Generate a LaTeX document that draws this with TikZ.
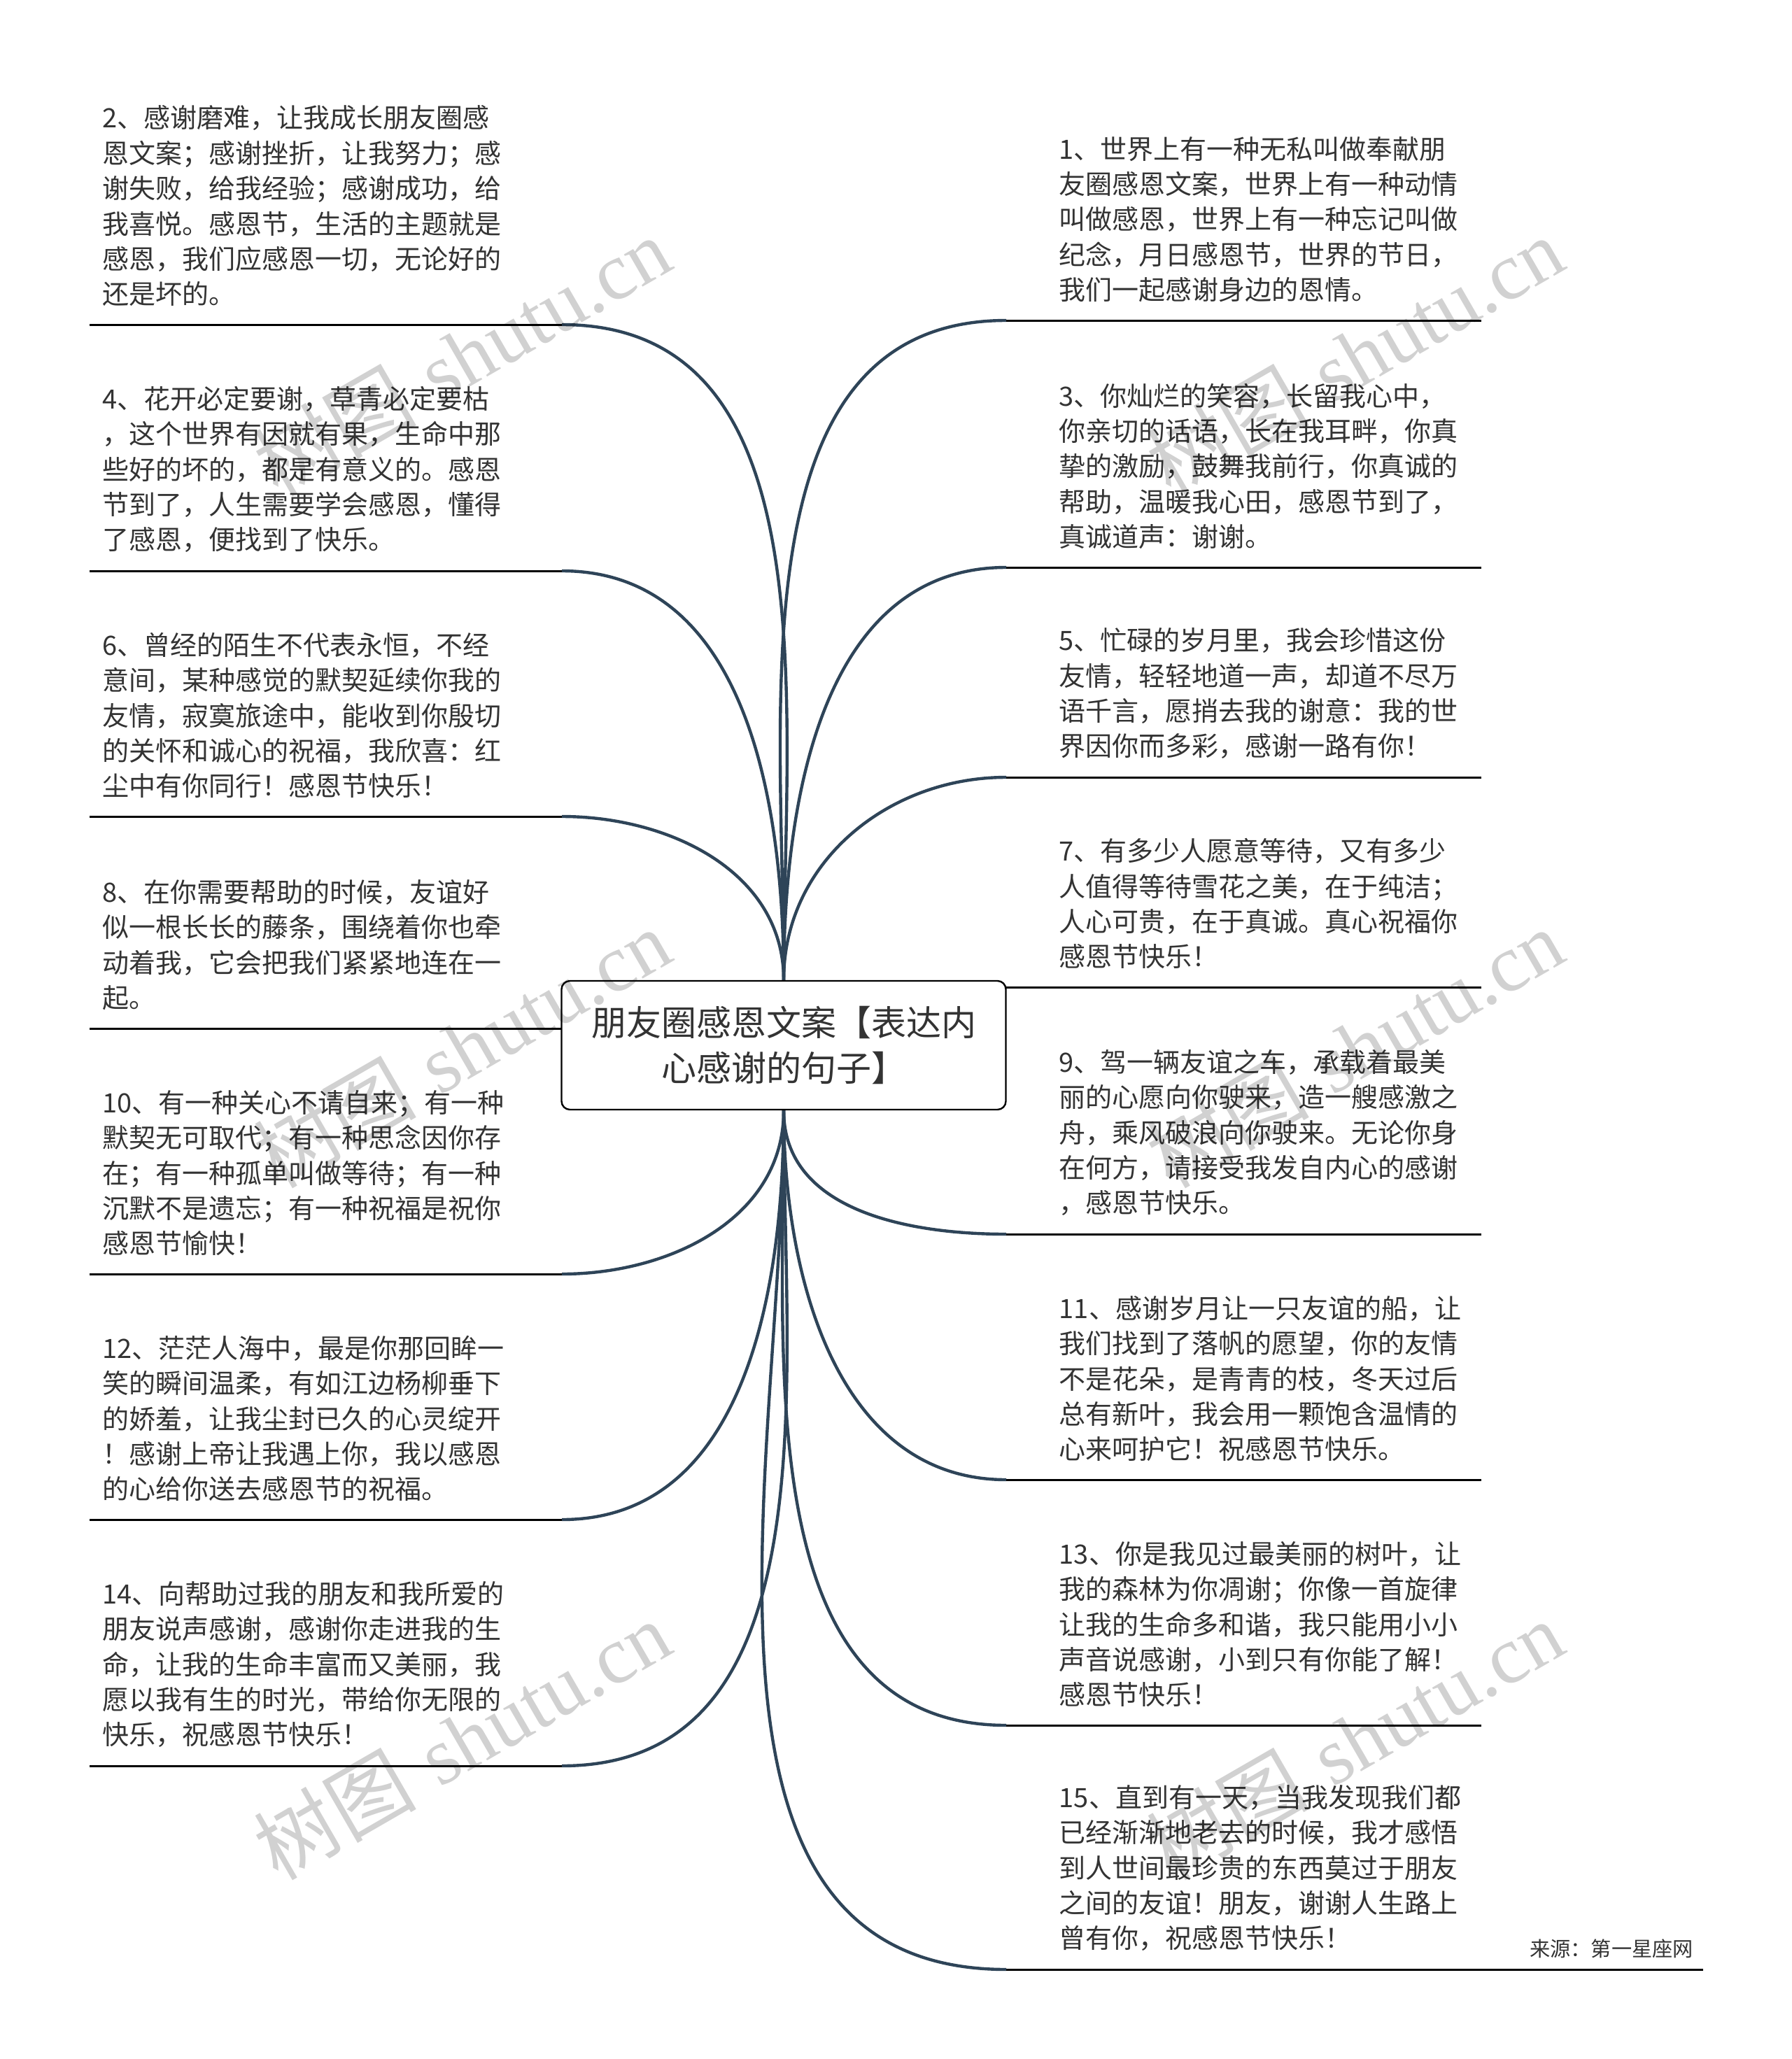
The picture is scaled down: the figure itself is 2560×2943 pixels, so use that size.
\documentclass[tikz,border=0pt]{standalone}
\usepackage{fontspec}
\newfontfamily\cjk{Noto Sans CJK SC}
\newfontfamily\wmfont{Liberation Serif}
\usetikzlibrary{positioning, backgrounds}
\definecolor{twigblue}{RGB}{46,68,88}
\definecolor{inkgray}{RGB}{51,51,51}
\tikzset{
  leaf/.style={font=\cjk\fontsize{9.5pt}{12.6pt}\selectfont, align=left, inner sep=0pt, text=inkgray},
  topic/.style={draw=black, fill=white, rounded corners=3pt, line width=0.6pt,
    minimum width=158.75pt, minimum height=46pt, align=center,
    font=\cjk\fontsize{12.5pt}{16.4pt}\selectfont, text=inkgray},
  stem/.style={draw=black, line width=0.75pt},
  twig/.style={draw=twigblue, line width=1.1pt},
  wmark/.style={rotate=30, text=black, text opacity=0.18, font=\fontsize{29pt}{29pt}\selectfont},
}
\begin{document}
\begin{tikzpicture}[x=0.25pt, y=-0.25pt]
    \useasboundingbox (0,0) rectangle (2560,2943);

    % 中心主题
    \node[topic] (root) at (1120,1494) {朋友圈感恩文案【表达内\\心感谢的句子】};

    % 左侧分支的横线
    \coordinate (l2a) at (128,464);   \coordinate (l2b) at (803,464);
    \coordinate (l4a) at (128,816);   \coordinate (l4b) at (803,816);
    \coordinate (l6a) at (128,1167);  \coordinate (l6b) at (803,1167);
    \coordinate (l8a) at (128,1470);  \coordinate (l8b) at (803,1470);
    \coordinate (l10a) at (128,1821); \coordinate (l10b) at (803,1821);
    \coordinate (l12a) at (128,2172); \coordinate (l12b) at (803,2172);
    \coordinate (l14a) at (128,2524); \coordinate (l14b) at (803,2524);

    % 右侧分支的横线
    \coordinate (r1a) at (1438,458);   \coordinate (r1b) at (2117,458);
    \coordinate (r3a) at (1438,811);   \coordinate (r3b) at (2117,811);
    \coordinate (r5a) at (1438,1111);  \coordinate (r5b) at (2117,1111);
    \coordinate (r7a) at (1438,1411);  \coordinate (r7b) at (2117,1411);
    \coordinate (r9a) at (1438,1764);  \coordinate (r9b) at (2117,1764);
    \coordinate (r11a) at (1438,2115); \coordinate (r11b) at (2117,2115);
    \coordinate (r13a) at (1438,2466); \coordinate (r13b) at (2117,2466);
    \coordinate (r15a) at (1438,2815); \coordinate (r15b) at (2117,2815);

    \foreach \s in {l2,l4,l6,l8,l10,l12,l14,r1,r3,r5,r7,r9,r11,r13,r15}
        \draw[stem] (\s a) -- (\s b);

    % 连线（在主题框之下）
    \begin{scope}[on background layer]
        \draw[twig] (l2b) to[out=0, in=90] (root.north);
        \draw[twig] (l4b) to[out=0, in=90] (root.north);
        \draw[twig] (l6b) to[out=0, in=90] (root.north);
        \draw[twig] (l8b) -- (root.center);
        \draw[twig] (l10b) to[out=0, in=-90] (root.south);
        \draw[twig] (l12b) to[out=0, in=-90] (root.south);
        \draw[twig] (l14b) to[out=0, in=-90] (root.south);
        \draw[twig] (r1a) to[out=180, in=90] (root.north);
        \draw[twig] (r3a) to[out=180, in=90] (root.north);
        \draw[twig] (r5a) to[out=180, in=90] (root.north);
        \draw[twig] (r7a) -- (root.center);
        \draw[twig] (r9a) to[out=180, in=-90] (root.south);
        \draw[twig] (r11a) to[out=180, in=-90] (root.south);
        \draw[twig] (r13a) to[out=180, in=-90] (root.south);
        \draw[twig] (r15a) to[out=180, in=-90] (root.south);
    \end{scope}

    % 左侧文字
    \node[leaf, above right=6.3pt and 4.5pt of l2a] (t2) {2、感谢磨难，让我成长朋友圈感\\恩文案；感谢挫折，让我努力；感\\谢失败，给我经验；感谢成功，给\\我喜悦。感恩节，生活的主题就是\\感恩，我们应感恩一切，无论好的\\还是坏的。};
    \node[leaf, above right=6.3pt and 4.5pt of l4a] (t4) {4、花开必定要谢，草青必定要枯\\，这个世界有因就有果，生命中那\\些好的坏的，都是有意义的。感恩\\节到了，人生需要学会感恩，懂得\\了感恩，便找到了快乐。};
    \node[leaf, above right=6.3pt and 4.5pt of l6a] (t6) {6、曾经的陌生不代表永恒，不经\\意间，某种感觉的默契延续你我的\\友情，寂寞旅途中，能收到你殷切\\的关怀和诚心的祝福，我欣喜：红\\尘中有你同行！感恩节快乐！};
    \node[leaf, above right=6.3pt and 4.5pt of l8a] (t8) {8、在你需要帮助的时候，友谊好\\似一根长长的藤条，围绕着你也牵\\动着我，它会把我们紧紧地连在一\\起。};
    \node[leaf, above right=6.3pt and 4.5pt of l10a] (t10) {10、有一种关心不请自来；有一种\\默契无可取代；有一种思念因你存\\在；有一种孤单叫做等待；有一种\\沉默不是遗忘；有一种祝福是祝你\\感恩节愉快！};
    \node[leaf, above right=6.3pt and 4.5pt of l12a] (t12) {12、茫茫人海中，最是你那回眸一\\笑的瞬间温柔，有如江边杨柳垂下\\的娇羞，让我尘封已久的心灵绽开\\！感谢上帝让我遇上你，我以感恩\\的心给你送去感恩节的祝福。};
    \node[leaf, above right=6.3pt and 4.5pt of l14a] (t14) {14、向帮助过我的朋友和我所爱的\\朋友说声感谢，感谢你走进我的生\\命，让我的生命丰富而又美丽，我\\愿以我有生的时光，带给你无限的\\快乐，祝感恩节快乐！};

    % 右侧文字
    \node[leaf, above right=6.3pt and 18.75pt of r1a] (t1) {1、世界上有一种无私叫做奉献朋\\友圈感恩文案，世界上有一种动情\\叫做感恩，世界上有一种忘记叫做\\纪念，月日感恩节，世界的节日，\\我们一起感谢身边的恩情。};
    \node[leaf, above right=6.3pt and 18.75pt of r3a] (t3) {3、你灿烂的笑容，长留我心中，\\你亲切的话语，长在我耳畔，你真\\挚的激励，鼓舞我前行，你真诚的\\帮助，温暖我心田，感恩节到了，\\真诚道声：谢谢。};
    \node[leaf, above right=6.3pt and 18.75pt of r5a] (t5) {5、忙碌的岁月里，我会珍惜这份\\友情，轻轻地道一声，却道不尽万\\语千言，愿捎去我的谢意：我的世\\界因你而多彩，感谢一路有你！};
    \node[leaf, above right=6.3pt and 18.75pt of r7a] (t7) {7、有多少人愿意等待，又有多少\\人值得等待雪花之美，在于纯洁；\\人心可贵，在于真诚。真心祝福你\\感恩节快乐！};
    \node[leaf, above right=6.3pt and 18.75pt of r9a] (t9) {9、驾一辆友谊之车，承载着最美\\丽的心愿向你驶来，造一艘感激之\\舟，乘风破浪向你驶来。无论你身\\在何方，请接受我发自内心的感谢\\，感恩节快乐。};
    \node[leaf, above right=6.3pt and 18.75pt of r11a] (t11) {11、感谢岁月让一只友谊的船，让\\我们找到了落帆的愿望，你的友情\\不是花朵，是青青的枝，冬天过后\\总有新叶，我会用一颗饱含温情的\\心来呵护它！祝感恩节快乐。};
    \node[leaf, above right=6.3pt and 18.75pt of r13a] (t13) {13、你是我见过最美丽的树叶，让\\我的森林为你凋谢；你像一首旋律\\让我的生命多和谐，我只能用小小\\声音说感谢，小到只有你能了解！\\感恩节快乐！};
    \node[leaf, above right=6.3pt and 18.75pt of r15a] (t15) {15、直到有一天，当我发现我们都\\已经渐渐地老去的时候，我才感悟\\到人世间最珍贵的东西莫过于朋友\\之间的友谊！朋友，谢谢人生路上\\曾有你，祝感恩节快乐！};

    % 来源
    \node[font=\cjk\fontsize{7.3pt}{8pt}\selectfont, text=inkgray] (src) at (2303,2785) {来源：第一星座网};
    \coordinate (s2) at (2434,2815);
    \draw[stem] (r15b) -- (s2);

    % 水印
    \foreach \wx in {660,1936}
        \foreach \wy in {509,1498,2487}
            \node[wmark] at (\wx,\wy) {{\cjk 树图} {\wmfont shutu.cn}};

\end{tikzpicture}
\end{document}
